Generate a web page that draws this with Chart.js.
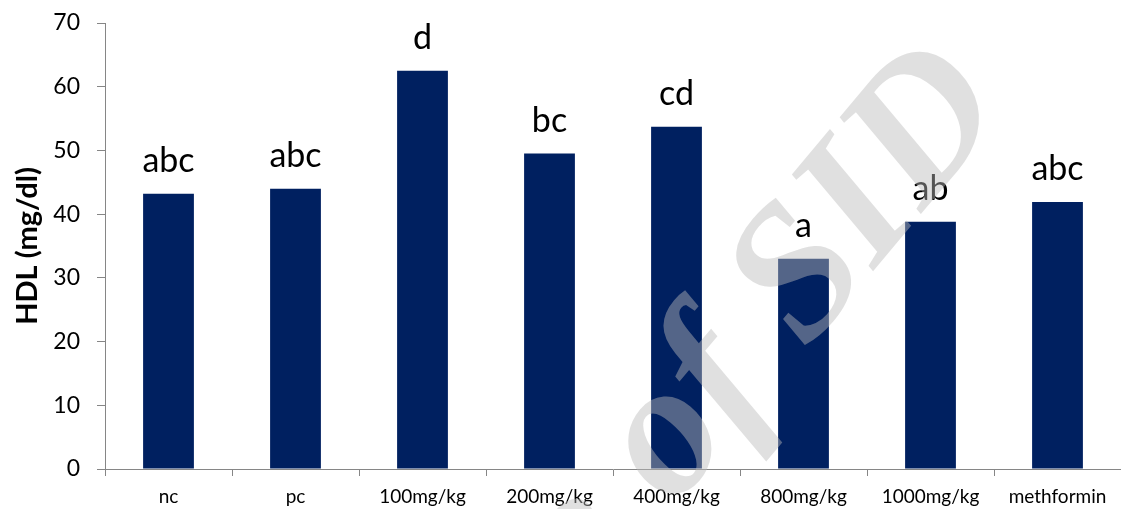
<!DOCTYPE html>
<html>
<head>
<meta charset="utf-8">
<script src="https://cdn.jsdelivr.net/npm/chart.js@4"></script>
<style>
  html, body { margin: 0; padding: 0; background: #fff; }
  #wrap { width: 1121px; height: 509px; }
</style>
</head>
<body>
<div id="wrap"><canvas id="hdlChart"></canvas></div>
<script>
// --- Data ---
const GROUPS = ["nc", "pc", "100mg/kg", "200mg/kg", "400mg/kg", "800mg/kg", "1000mg/kg", "methformin"];
const HDL_VALUES = [43.2, 44.0, 62.5, 49.5, 53.7, 33.0, 38.8, 41.9];
const SIG_LETTERS = ["abc", "abc", "d", "bc", "cd", "a", "ab", "abc"];
const Y_TICKS = [0, 10, 20, 30, 40, 50, 60, 70];
const WATERMARK = "Archive of SID";

const FONT = "Lato, 'Open Sans', sans-serif";
const AXIS_GREY = "#868686";

// letters above each bar
const letterPlugin = {
  id: "letters",
  afterDatasetsDraw(chart) {
    const { ctx } = chart;
    const meta = chart.getDatasetMeta(0);
    ctx.save();
    ctx.font = "34px " + FONT;
    ctx.fillStyle = "#000";
    ctx.textAlign = "center";
    ctx.textBaseline = "alphabetic";
    meta.data.forEach((bar, i) => {
      ctx.fillText(SIG_LETTERS[i], bar.x, bar.y - 22);
    });
    ctx.restore();
  },
};

// faint rotated watermark on top of everything
const watermarkPlugin = {
  id: "watermark",
  afterDraw(chart) {
    const { ctx } = chart;
    ctx.save();
    ctx.translate(1010, 108);
    ctx.rotate(-50 * Math.PI / 180);
    ctx.font = "bold italic 190px 'Liberation Serif', serif";
    ctx.fillStyle = "rgba(187,187,187,0.45)";
    ctx.textAlign = "right";
    ctx.textBaseline = "alphabetic";
    ctx.fillText(WATERMARK, 0, 0);
    ctx.restore();
  },
};

new Chart(document.getElementById("hdlChart"), {
  type: "bar",
  data: {
    labels: GROUPS,
    datasets: [
      {
        data: HDL_VALUES,
        backgroundColor: "#002060",
        borderWidth: 0,
        barPercentage: 0.4,
        categoryPercentage: 1.0,
      },
    ],
  },
  options: {
    responsive: true,
    maintainAspectRatio: false,
    animation: false,
    layout: { padding: { top: 23, right: 0, left: 0, bottom: 0 } },
    plugins: { legend: { display: false }, tooltip: { enabled: false } },
    scales: {
      x: {
        grid: { display: true, drawOnChartArea: false, offset: true, tickLength: 7, color: AXIS_GREY },
        border: { color: AXIS_GREY },
        ticks: { color: "#000", font: { family: FONT, size: 19 }, padding: 9, maxRotation: 0 },
        afterFit(scale) { scale.height = 40; },
      },
      y: {
        min: 0,
        max: 70,
        afterBuildTicks(scale) { scale.ticks = Y_TICKS.map((v) => ({ value: v })); },
        grid: { display: true, drawOnChartArea: false, tickLength: 8, color: AXIS_GREY },
        border: { color: AXIS_GREY },
        ticks: { color: "#000", font: { family: FONT, size: 23 }, padding: 17 },
        title: {
          display: true,
          text: "HDL (mg/dl)",
          color: "#000",
          font: { family: FONT, size: 29, weight: "bold" },
          padding: { top: 10, bottom: 0 },
        },
        afterFit(scale) {
          scale.width = 105;
          scale.paddingTop = 0;
          scale.paddingBottom = 0;
        },
      },
    },
  },
  plugins: [letterPlugin, watermarkPlugin],
});
</script>
</body>
</html>
